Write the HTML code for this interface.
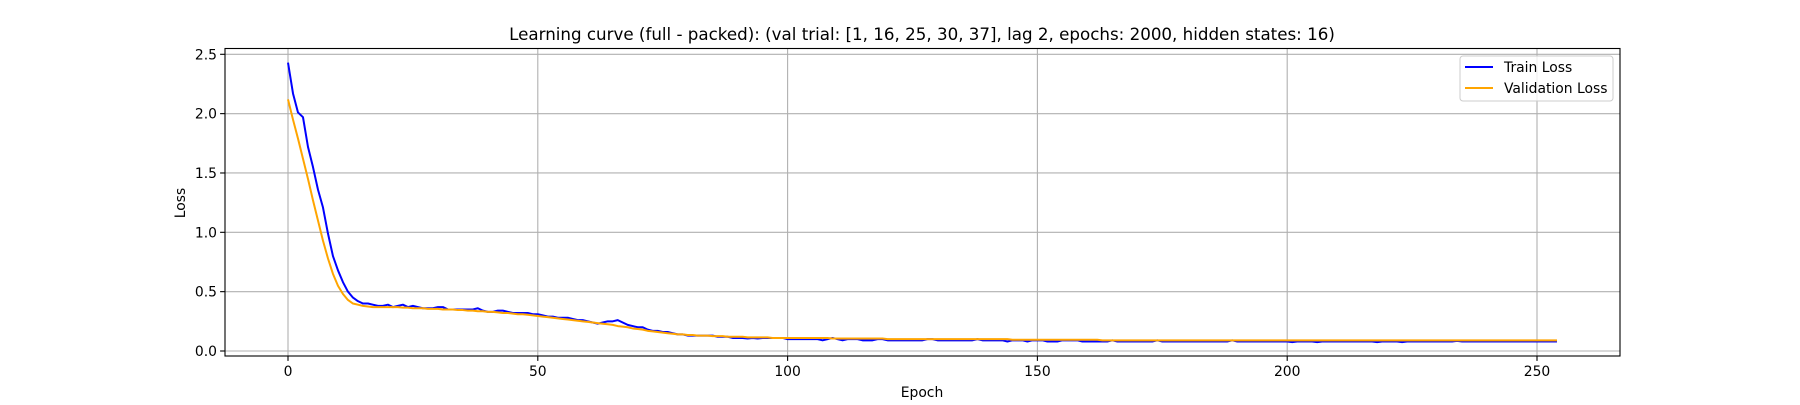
<!DOCTYPE html>
<html><head><meta charset="utf-8"><style>
body{margin:0;background:#fff;width:1800px;height:400px;overflow:hidden}
text{font-family:"DejaVu Sans","Liberation Sans",sans-serif;fill:#000}
</style></head><body>
<svg id="chart" width="1800" height="400" xmlns="http://www.w3.org/2000/svg">
<text x="922" y="40" font-size="16.7" text-anchor="middle">Learning curve (full - packed): (val trial: [1, 16, 25, 30, 37], lag 2, epochs: 2000, hidden states: 16)</text>
<g id="grid"></g>
<g id="series"></g>
<rect x="225" y="48.5" width="1395" height="307.5" fill="none" stroke="#000" stroke-width="1.1"/>
<g id="ticks"></g>
<text x="922" y="397" font-size="13.9" text-anchor="middle">Epoch</text>
<text x="185" y="203" font-size="13.9" text-anchor="middle" transform="rotate(-90 185 203)">Loss</text>
<g>
<rect x="1460" y="56" width="153" height="45" rx="3" fill="#fff" fill-opacity="0.8" stroke="#ccc"/>
<line x1="1465" y1="67" x2="1493" y2="67" stroke="#0000ff" stroke-width="2"/>
<text x="1504" y="72" font-size="13.9">Train Loss</text>
<line x1="1465" y1="88" x2="1493" y2="88" stroke="#ffa500" stroke-width="2"/>
<text x="1504" y="93" font-size="13.9">Validation Loss</text>
</g>
</svg>
<script>
const xTicks=[0,50,100,150,200,250];
const yTicks=[0.0,0.5,1.0,1.5,2.0,2.5];
const yTickLabels=["0.0","0.5","1.0","1.5","2.0","2.5"];
const trainLoss=[2.43,2.17,2.01,1.97,1.72,1.55,1.36,1.21,0.99,0.80,
0.68,0.58,0.50,0.45,0.42,0.40,0.40,0.39,0.38,0.38,
0.39,0.37,0.38,0.39,0.37,0.38,0.37,0.36,0.36,0.36,
0.37,0.37,0.35,0.35,0.35,0.35,0.35,0.35,0.36,0.34,
0.33,0.33,0.34,0.34,0.33,0.32,0.32,0.32,0.32,0.31,
0.31,0.30,0.29,0.29,0.28,0.28,0.28,0.27,0.26,0.26,
0.25,0.24,0.23,0.24,0.25,0.25,0.26,0.24,0.22,0.21,
0.20,0.20,0.18,0.17,0.17,0.16,0.16,0.15,0.14,0.14,
0.13,0.13,0.13,0.13,0.13,0.13,0.12,0.12,0.12,0.11,
0.11,0.11,0.105,0.11,0.105,0.11,0.11,0.11,0.11,0.11,
0.10,0.10,0.10,0.10,0.10,0.10,0.10,0.09,0.10,0.11,
0.10,0.09,0.10,0.10,0.10,0.09,0.09,0.09,0.10,0.10,
0.09,0.09,0.09,0.09,0.09,0.09,0.09,0.09,0.10,0.10,
0.09,0.09,0.09,0.09,0.09,0.09,0.09,0.09,0.10,0.09,
0.09,0.09,0.09,0.09,0.08,0.09,0.09,0.09,0.08,0.09,
0.09,0.09,0.08,0.08,0.08,0.09,0.09,0.09,0.09,0.08,
0.08,0.08,0.08,0.08,0.08,0.09,0.08,0.08,0.08,0.08,
0.08,0.08,0.08,0.08,0.09,0.08,0.08,0.08,0.08,0.08,
0.08,0.08,0.08,0.08,0.08,0.08,0.08,0.08,0.08,0.09,
0.08,0.08,0.08,0.08,0.08,0.08,0.08,0.08,0.08,0.08,
0.08,0.075,0.08,0.08,0.08,0.08,0.075,0.08,0.08,0.08,
0.08,0.08,0.08,0.08,0.08,0.08,0.08,0.08,0.075,0.08,
0.08,0.08,0.08,0.075,0.08,0.08,0.08,0.08,0.08,0.08,
0.08,0.08,0.08,0.08,0.085,0.08,0.08,0.08,0.08,0.08,
0.08,0.08,0.08,0.08,0.08,0.08,0.08,0.08,0.08,0.08,
0.08,0.08,0.08,0.08,0.08];
const valLoss=[2.12,1.95,1.79,1.62,1.45,1.27,1.10,0.93,0.78,0.65,
0.55,0.48,0.43,0.40,0.39,0.38,0.375,0.37,0.37,0.37,
0.37,0.37,0.37,0.365,0.365,0.36,0.36,0.36,0.355,0.355,
0.355,0.35,0.35,0.35,0.345,0.345,0.34,0.34,0.335,0.335,
0.33,0.33,0.325,0.32,0.32,0.315,0.31,0.31,0.305,0.30,
0.295,0.29,0.285,0.28,0.275,0.27,0.265,0.26,0.255,0.25,
0.245,0.24,0.235,0.23,0.225,0.22,0.21,0.205,0.20,0.19,
0.185,0.18,0.17,0.165,0.16,0.155,0.15,0.145,0.14,0.14,
0.135,0.135,0.13,0.13,0.13,0.125,0.125,0.125,0.12,0.12,
0.12,0.12,0.115,0.115,0.115,0.115,0.115,0.11,0.11,0.11,
0.11,0.11,0.11,0.11,0.11,0.11,0.11,0.11,0.11,0.105,
0.105,0.105,0.105,0.105,0.105,0.105,0.105,0.105,0.105,0.105,
0.10,0.10,0.10,0.10,0.10,0.10,0.10,0.10,0.10,0.10,
0.10,0.10,0.10,0.10,0.10,0.10,0.10,0.10,0.10,0.10,
0.10,0.10,0.10,0.10,0.10,0.095,0.095,0.095,0.095,0.095,
0.095,0.095,0.095,0.095,0.095,0.095,0.095,0.095,0.095,0.095,
0.095,0.095,0.095,0.09,0.09,0.09,0.09,0.09,0.09,0.09,
0.09,0.09,0.09,0.09,0.09,0.09,0.09,0.09,0.09,0.09,
0.09,0.09,0.09,0.09,0.09,0.09,0.09,0.09,0.09,0.09,
0.09,0.09,0.09,0.09,0.09,0.09,0.09,0.09,0.09,0.09,
0.09,0.09,0.09,0.09,0.09,0.09,0.09,0.09,0.09,0.09,
0.09,0.09,0.09,0.09,0.09,0.09,0.09,0.09,0.09,0.09,
0.09,0.09,0.09,0.09,0.09,0.09,0.09,0.09,0.09,0.09,
0.09,0.09,0.09,0.09,0.09,0.09,0.09,0.09,0.09,0.09,
0.09,0.09,0.09,0.09,0.09,0.09,0.09,0.09,0.09,0.09,
0.09,0.09,0.09,0.09,0.09];
const NS="http://www.w3.org/2000/svg";
const X0=288,X1=1537,Y0=351,Y1=54.3,PL=225,PR=1620,PT=48.5,PB=356;
function xs(v){return X0+(v-0)*(X1-X0)/250;}
function ys(v){return Y0+(v-0)*(Y1-Y0)/2.5;}
function mk(tag,attrs,parent){const e=document.createElementNS(NS,tag);for(const k in attrs)e.setAttribute(k,attrs[k]);parent.appendChild(e);return e;}
const grid=document.getElementById('grid'),ticks=document.getElementById('ticks'),ser=document.getElementById('series');
xTicks.forEach(t=>{
  const g=mk('line',{x1:xs(t),x2:xs(t),y1:PT,y2:PB,stroke:'#b0b0b0','stroke-width':1.1},grid);
  
  
  const tk=mk('line',{x1:xs(t),x2:xs(t),y1:PB,y2:PB+4.9,stroke:'#000','stroke-width':1.1},ticks);
  
  
  const tx=mk('text',{x:xs(t),y:PB+20,'font-size':13.9,'text-anchor':'middle'},ticks);
  tx.textContent=t;
  
  
});
yTicks.forEach((t,i)=>{
  const g=mk('line',{x1:PL,x2:PR,y1:ys(t),y2:ys(t),stroke:'#b0b0b0','stroke-width':1.1},grid);
  
  
  const tk=mk('line',{x1:PL-4.9,x2:PL,y1:ys(t),y2:ys(t),stroke:'#000','stroke-width':1.1},ticks);
  
  
  const tx=mk('text',{x:PL-8,y:ys(t)+5,'font-size':13.9,'text-anchor':'end'},ticks);
  tx.textContent=yTickLabels[i];
  
  
});
function path(arr,color,name){
  const d=arr.map((v,i)=>(i?'L':'M')+xs(i).toFixed(2)+','+ys(v).toFixed(2)).join('');
  const p=mk('path',{d:d,fill:'none',stroke:color,'stroke-width':2,'stroke-linejoin':'round'},ser);
  
  
}
path(trainLoss,'#0000ff','train-loss-line');
path(valLoss,'#ffa500','validation-loss-line');
</script>
</body></html>
